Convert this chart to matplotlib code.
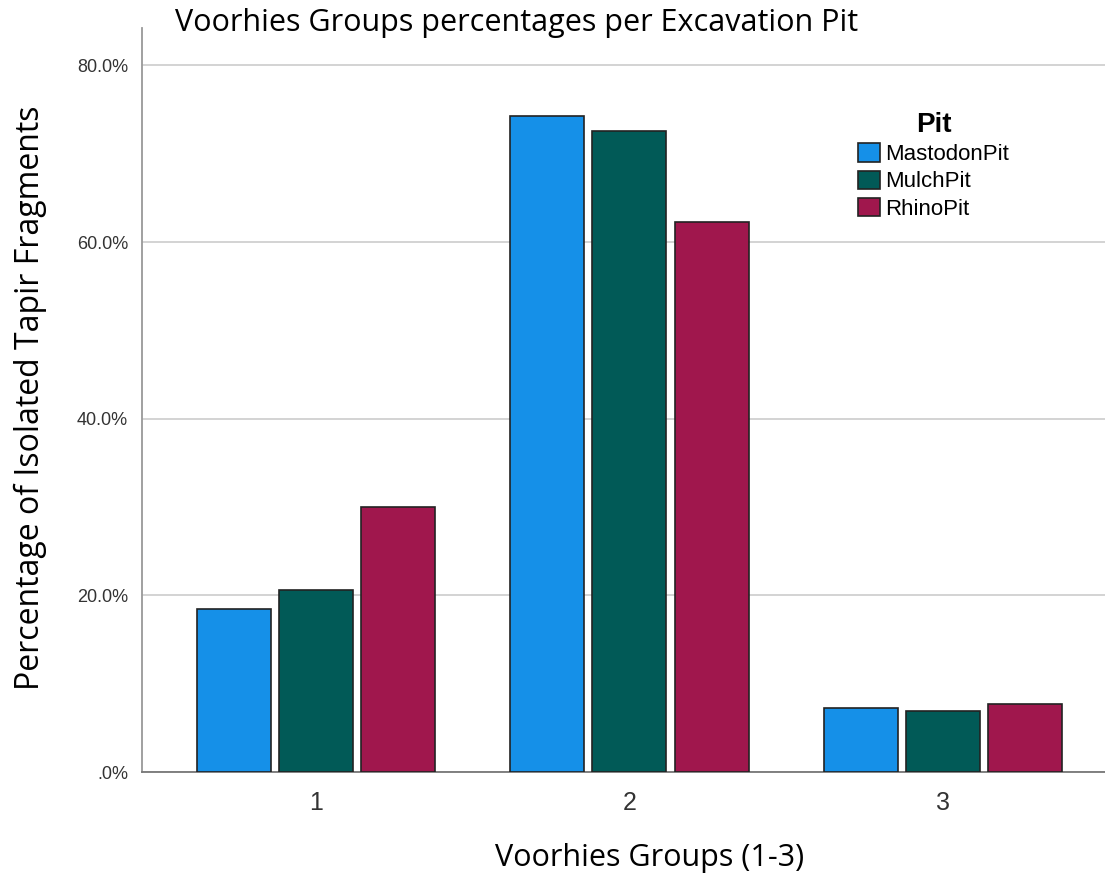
import numpy as np
import matplotlib
matplotlib.use("Agg")
import matplotlib.pyplot as plt
from matplotlib.ticker import FuncFormatter

groups = [1, 2, 3]
pits = ["MastodonPit", "MulchPit", "RhinoPit"]
mastodon = [18.4, 74.3, 7.2]
mulch = [20.6, 72.6, 6.9]
rhino = [30.0, 62.3, 7.7]
colors = ["#1590e8", "#015a57", "#a0174d"]

fig = plt.figure(figsize=(11.05, 8.76), dpi=100)
ax = fig.add_axes([0.1285, 0.1187, 0.8715, 0.849])

x = np.array(groups, dtype=float)
width = 0.236
step = 0.262
for i, (vals, name) in enumerate(zip([mastodon, mulch, rhino], pits)):
    ax.bar(x + (i - 1) * step, vals, width, color=colors[i], edgecolor="#222222",
           linewidth=1.2, label=name, zorder=3)

ax.set_xlim(0.446, 3.516)
ax.set_ylim(0, 84.2)
ax.set_yticks([0, 20, 40, 60, 80])
ax.yaxis.set_major_formatter(FuncFormatter(lambda v, p: ".0%" if v == 0 else f"{v:.1f}%"))
ax.set_xticks(groups)
ax.grid(True, axis="y", color="#cccccc", linewidth=1.2, zorder=0)
ax.tick_params(axis="both", length=0)
ax.tick_params(axis="y", labelsize=13, colors="#333333", pad=10)
ax.tick_params(axis="x", labelsize=18, colors="#333333", pad=14)
for lab in ax.get_yticklabels() + ax.get_xticklabels():
    lab.set_family("Liberation Sans")

for s in ["top", "right"]:
    ax.spines[s].set_visible(False)
ax.spines["left"].set_color("#999999")
ax.spines["bottom"].set_color("#777777")
ax.spines["left"].set_linewidth(1.3)
ax.spines["bottom"].set_linewidth(1.3)

fig.text(175 / 1105, 1 - 23 / 876, "Voorhies Groups percentages per Excavation Pit",
         fontsize=22, family="Open Sans", va="center", ha="left")
fig.text(30 / 1105, 1 - 398 / 876, "Percentage of Isolated Tapir Fragments",
         fontsize=23, family="Open Sans", rotation=90, va="center", ha="center")
fig.text(650 / 1105, 1 - 858 / 876, "Voorhies Groups (1-3)",
         fontsize=22, family="Open Sans", va="center", ha="center")

leg = ax.legend(title="Pit", loc="upper left", bbox_to_anchor=(0.7225, 0.915),
                frameon=False, prop={"family": "Liberation Sans", "size": 16},
                title_fontproperties={"family": "Liberation Sans", "size": 20, "weight": "bold"},
                handlelength=1.0, handleheight=0.9, handletextpad=0.25, labelspacing=0.25)
leg._legend_box.align = "center"

fig.savefig("out.png", dpi=100)
